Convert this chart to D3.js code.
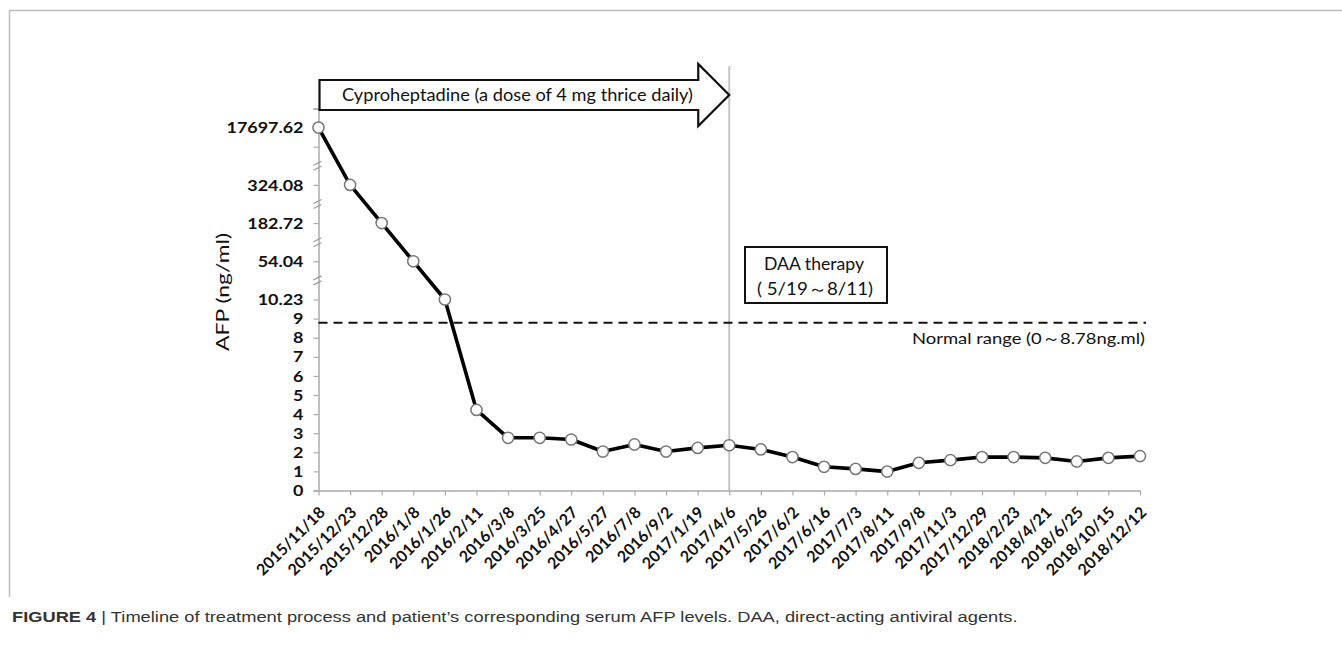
<!DOCTYPE html>
<html>
<head>
<meta charset="utf-8">
<script src="https://cdn.jsdelivr.net/npm/d3@7"></script>
<style>
  body { margin: 0; background: #fff; }
  svg { display: block; }
</style>
</head>
<body>
<div id="chart"></div>
<script>
// dates of the AFP measurements
const dates = ["2015/11/18", "2015/12/23", "2015/12/28", "2016/1/8", "2016/1/26", "2016/2/11",
  "2016/3/8", "2016/3/25", "2016/4/27", "2016/5/27", "2016/7/8", "2016/9/2", "2017/1/19",
  "2017/4/6", "2017/5/26", "2017/6/2", "2017/6/16", "2017/7/3", "2017/8/11", "2017/9/8",
  "2017/11/3", "2017/12/29", "2018/2/23", "2018/4/21", "2018/6/25", "2018/10/15", "2018/12/12"];

// AFP (ng/ml)
const afp = [17697.62, 324.08, 182.72, 54.04, 10.23, 4.22,
  2.76, 2.76, 2.67, 2.04, 2.41, 2.04, 2.23,
  2.37, 2.15, 1.75, 1.24, 1.13, 0.99, 1.45,
  1.59, 1.75, 1.75, 1.71, 1.52, 1.71, 1.8];

// broken y axis: real values -> axis slots
const breakValues = [0, 9, 10.23, 54.04, 182.72, 324.08, 17697.62];
const breakSlots  = [0, 9, 10, 12, 14, 16, 19];
const tickSlots = [0, 1, 2, 3, 4, 5, 6, 7, 8, 9, 10, 12, 14, 16, 18, 19, 20];
const tickLabels = {0: "0", 1: "1", 2: "2", 3: "3", 4: "4", 5: "5", 6: "6", 7: "7", 8: "8", 9: "9",
  10: "10.23", 12: "54.04", 14: "182.72", 16: "324.08", 19: "17697.62"};
const breakMarks = [11, 13, 15, 17];

const normalLimit = 8.78;
const daaStart = "2017/4/6";

const W = 1342, H = 645;
const font = "Lato, 'Open Sans', sans-serif";

// widen text horizontally (the figure is a bit stretched)
function stretch(sel, k) {
  sel.each(function() {
    const w = this.getComputedTextLength();
    d3.select(this).attr("textLength", w * k).attr("lengthAdjust", "spacingAndGlyphs");
  });
}
function fit(sel, w) {
  sel.attr("textLength", w).attr("lengthAdjust", "spacingAndGlyphs");
}

const svg = d3.select("#chart").append("svg")
  .attr("width", W).attr("height", H);

// figure frame (top and left only)
svg.append("path")
  .attr("d", "M9.5,597 V10.5 H1342")
  .attr("fill", "none").attr("stroke", "#bbb").attr("stroke-width", 1.5);

const x = d3.scalePoint().domain(dates).range([318.5, 1140]);
const slot = d3.scaleLinear().domain(breakValues).range(breakSlots);
const y = d3.scaleLinear().domain([0, 20]).range([490.5, 108.5]);
const Y = v => y(slot(v));

// vertical line at start of DAA therapy
svg.append("line")
  .attr("x1", x(daaStart)).attr("x2", x(daaStart))
  .attr("y1", 66).attr("y2", y(0))
  .attr("stroke", "#c4c4c4").attr("stroke-width", 2);

// y axis
const yAxis = svg.append("g")
  .attr("transform", `translate(${x(dates[0])},0)`)
  .call(d3.axisLeft(y).tickValues(tickSlots).tickSize(5).tickPadding(10)
    .tickFormat(d => tickLabels[d] || ""));
yAxis.select(".domain").attr("stroke", "#aaa").attr("stroke-width", 1.5);
yAxis.selectAll(".tick line").attr("stroke", "#aaa").attr("stroke-width", 1.2);
yAxis.selectAll(".tick text")
  .attr("font-family", font).attr("font-size", 16).attr("font-weight", "bold")
  .attr("fill", "#111")
  .call(stretch, 1.12);

// break marks on the y axis
svg.selectAll(".brk")
  .data(breakMarks.flatMap(s => [{s, o: -2.5}, {s, o: 2.5}]))
  .enter().append("line")
  .attr("x1", x(dates[0]) - 5).attr("x2", x(dates[0]) + 3)
  .attr("y1", d => y(d.s) + d.o + 2).attr("y2", d => y(d.s) + d.o - 2)
  .attr("stroke", "#999").attr("stroke-width", 1.2);

// x axis
const xAxis = svg.append("g")
  .attr("transform", `translate(0,${y(0)})`)
  .call(d3.axisBottom(x).tickSize(5).tickSizeOuter(0));
xAxis.select(".domain").attr("stroke", "#aaa").attr("stroke-width", 1.5);
xAxis.selectAll(".tick line").attr("stroke", "#aaa").attr("stroke-width", 1.2);
xAxis.selectAll(".tick text")
  .attr("font-family", font).attr("font-size", 16).attr("font-weight", "bold")
  .attr("fill", "#111")
  .attr("text-anchor", "end")
  .attr("dy", null).attr("y", 0)
  .attr("transform", "translate(7,23) rotate(-45)");

// y axis title
svg.append("text")
  .attr("transform", "translate(229,292) rotate(-90)")
  .attr("text-anchor", "middle")
  .attr("font-family", font).attr("font-size", 17)
  .attr("fill", "#111")
  .text("AFP (ng/ml)")
  .call(fit, 118);

// normal range
svg.append("line")
  .attr("x1", x(dates[0])).attr("x2", 1146)
  .attr("y1", Y(normalLimit)).attr("y2", Y(normalLimit))
  .attr("stroke", "#111").attr("stroke-width", 2).attr("stroke-dasharray", "9,6");
svg.append("text")
  .attr("x", 1145).attr("y", Y(normalLimit) + 21)
  .attr("text-anchor", "end")
  .attr("font-family", font).attr("font-size", 16)
  .attr("fill", "#111")
  .text("Normal range (0～8.78ng.ml)")
  .call(fit, 233);

// AFP line + markers
svg.append("path")
  .datum(afp)
  .attr("fill", "none").attr("stroke", "#000").attr("stroke-width", 3.6)
  .attr("stroke-linejoin", "round")
  .attr("d", d3.line().x((d, i) => x(dates[i])).y(d => Y(d)));
svg.selectAll(".pt")
  .data(afp)
  .enter().append("circle")
  .attr("class", "pt")
  .attr("cx", (d, i) => x(dates[i])).attr("cy", d => Y(d))
  .attr("r", 5.6)
  .attr("fill", "#fff").attr("stroke", "#777").attr("stroke-width", 1.5);

// cyproheptadine arrow
const ax0 = x(dates[0]) + 1, tip = x(daaStart), head = tip - 31;
svg.append("path")
  .attr("d", `M${ax0},80 H${head} V64 L${tip},95 L${head},126 V110 H${ax0} Z`)
  .attr("fill", "#fff").attr("stroke", "#111").attr("stroke-width", 2.2)
  .attr("stroke-linejoin", "miter");
svg.append("text")
  .attr("x", 342).attr("y", 101)
  .attr("font-family", font).attr("font-size", 17)
  .attr("fill", "#111")
  .text("Cyproheptadine (a dose of 4 mg thrice daily)")
  .call(fit, 351);

// DAA therapy box
svg.append("rect")
  .attr("x", 745).attr("y", 247).attr("width", 142).attr("height", 56)
  .attr("fill", "#fff").attr("stroke", "#111").attr("stroke-width", 2);
svg.append("text")
  .attr("x", 764).attr("y", 270)
  .attr("font-family", font).attr("font-size", 16.5).attr("fill", "#111")
  .text("DAA therapy")
  .call(fit, 100);
svg.append("text")
  .attr("x", 757).attr("y", 295)
  .attr("font-family", font).attr("font-size", 16.5).attr("fill", "#111")
  .text("( 5/19～8/11)")
  .call(fit, 116);

// caption
const capG = svg.append("g");
const cap = capG.append("text")
  .attr("x", 0).attr("y", 0)
  .attr("font-family", "'Liberation Sans', Arial, sans-serif").attr("font-size", 15.4)
  .attr("fill", "#333");
cap.append("tspan").attr("font-weight", "bold").text("FIGURE 4");
cap.append("tspan").text(" | Timeline of treatment process and patient\u2019s corresponding serum AFP levels. DAA, direct-acting antiviral agents.");
const capW = cap.node().getBBox().width;
capG.attr("transform", `translate(12,622) scale(${1006 / capW},1)`);
</script>
</body>
</html>
